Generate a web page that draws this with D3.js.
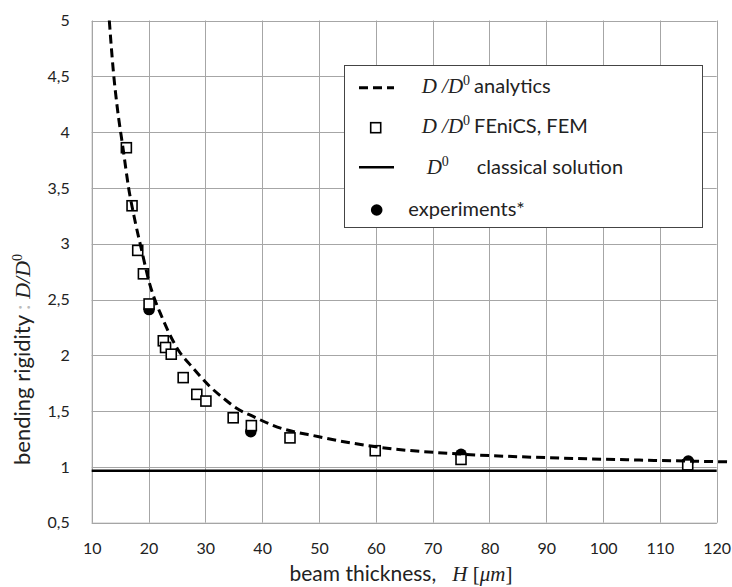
<!DOCTYPE html>
<html>
<head>
<meta charset="utf-8">
<script src="https://cdn.jsdelivr.net/npm/d3@7"></script>
<style>
  html, body { margin: 0; padding: 0; background: #fff; }
  svg { display: block; }
</style>
</head>
<body>
<svg id="chart" width="732" height="587"></svg>
<script>
// ---- data ----
const xTicks = [10, 20, 30, 40, 50, 60, 70, 80, 90, 100, 110, 120];
const yTicks = [0.5, 1, 1.5, 2, 2.5, 3, 3.5, 4, 4.5, 5];

// analytic curve D/D0
const analyticH = [13.1, 13.8, 14.5, 15.5, 16.5, 17.6, 18.8, 20.2, 21.1, 22.3, 23.8, 25.2, 27.6, 30.8, 33.2, 35.5, 38.5, 42, 50, 60, 75, 90, 105, 122];
const analyticD = [5.0, 4.55, 4.22, 3.86, 3.5, 3.21, 2.94, 2.64, 2.5, 2.35, 2.18, 2.05, 1.9, 1.72, 1.615, 1.525, 1.45, 1.37, 1.27, 1.18, 1.115, 1.083, 1.063, 1.045];

// FEniCS FEM points
const femH = [16.1, 17.1, 18.1, 19.1, 20.1, 22.6, 23.0, 24.0, 26.1, 28.5, 30.1, 34.9, 38.1, 44.9, 59.9, 75.0, 114.9];
const femD = [3.86, 3.34, 2.94, 2.73, 2.46, 2.13, 2.07, 2.01, 1.80, 1.65, 1.59, 1.44, 1.37, 1.26, 1.145, 1.067, 1.018];

// experiments
const expH = [20.1, 38.0, 75.0, 115.0];
const expD = [2.41, 1.315, 1.113, 1.053];

// classical solution D0
const classicalH = [10, 120];
const classicalD = [0.965, 0.965];

// ---- drawing ----
const svg = d3.select("#chart");
const sans = "Lato, 'Open Sans', sans-serif";
const serif = "'Liberation Serif', 'DejaVu Serif', serif";

const x = d3.scaleLinear().domain([10, 120]).range([91.7, 716.7]);
const y = d3.scaleLinear().domain([0.5, 5]).range([522.7, 20.5]);
const fmt = d => String(d).replace(".", ",");

// grid
const grid = svg.append("g");
grid.selectAll("line.v").data(xTicks).join("line")
  .attr("x1", d => Math.round(x(d)) + 0.5).attr("x2", d => Math.round(x(d)) + 0.5)
  .attr("y1", y(0.5)).attr("y2", y(5))
  .attr("stroke", "#a6a6a6").attr("stroke-width", 1);
grid.selectAll("line.h").data(yTicks).join("line")
  .attr("y1", d => Math.round(y(d)) + 0.5).attr("y2", d => Math.round(y(d)) + 0.5)
  .attr("x1", x(10)).attr("x2", x(120))
  .attr("stroke", "#a6a6a6").attr("stroke-width", 1);

// axes (labels)
const xAxis = svg.append("g").attr("transform", `translate(0,${y(0.5)})`)
  .call(d3.axisBottom(x).tickValues(xTicks).tickFormat(fmt).tickSize(0).tickPadding(20));
xAxis.select(".domain").attr("stroke", "#a6a6a6");
xAxis.selectAll("text").attr("font-family", sans).attr("font-size", 16).attr("fill", "#222");

const yAxis = svg.append("g").attr("transform", `translate(${x(10)},0)`)
  .call(d3.axisLeft(y).tickValues(yTicks).tickFormat(fmt).tickSize(0).tickPadding(22));
yAxis.select(".domain").attr("stroke", "#a6a6a6");
yAxis.selectAll("text").attr("font-family", sans).attr("font-size", 16).attr("fill", "#222");

// experiments (filled circles)
svg.append("g").selectAll("circle").data(expH).join("circle")
  .attr("cx", (d, i) => x(d)).attr("cy", (d, i) => y(expD[i]))
  .attr("r", 5.8).attr("fill", "#000");

// FEM squares
const sq = 10;
svg.append("g").selectAll("rect").data(femH).join("rect")
  .attr("x", (d, i) => x(d) - sq / 2).attr("y", (d, i) => y(femD[i]) - sq / 2)
  .attr("width", sq).attr("height", sq)
  .attr("fill", "#fff").attr("stroke", "#000").attr("stroke-width", 1.6);

// analytic dashed curve
const line = d3.line().x(d => x(d[0])).y(d => y(d[1])).curve(d3.curveMonotoneX);
svg.append("path").datum(analyticH.map((h, i) => [h, analyticD[i]]))
  .attr("d", line).attr("fill", "none").attr("stroke", "#000")
  .attr("stroke-width", 3).attr("stroke-dasharray", "9,5");

// classical solution
svg.append("path").datum(classicalH.map((h, i) => [h, classicalD[i]]))
  .attr("d", d3.line().x(d => x(d[0])).y(d => y(d[1])))
  .attr("stroke", "#000").attr("stroke-width", 2.5).attr("fill", "none");

// axis titles
const xt = svg.append("text").attr("x", 401).attr("y", 581).attr("text-anchor", "middle")
  .attr("font-family", sans).attr("font-size", 21).attr("fill", "#222");
xt.append("tspan").text("beam thickness,\u00a0\u00a0 ");
xt.append("tspan").attr("font-family", serif).attr("font-style", "italic").text("H");
xt.append("tspan").attr("font-family", serif).text(" [");
xt.append("tspan").attr("font-family", serif).attr("font-style", "italic").text("μm");
xt.append("tspan").attr("font-family", serif).text("]");

const yt = svg.append("text").attr("transform", "translate(30,465) rotate(-90)")
  .attr("text-anchor", "start").attr("font-family", sans).attr("font-size", 22).attr("fill", "#222");
yt.append("tspan").text("bending rigidity ");
yt.append("tspan").attr("fill", "#bbb").text(": ");
yt.append("tspan").attr("font-family", serif).attr("font-style", "italic").text("D/D");
yt.append("tspan").attr("font-family", serif).attr("font-size", 14).attr("dy", -8).text("0");

// legend
const lg = svg.append("g");
lg.append("rect").attr("x", 344.5).attr("y", 65.5).attr("width", 358).attr("height", 162)
  .attr("fill", "#fff").attr("stroke", "#444").attr("stroke-width", 1);

function mathD(t, xpos, ypos, withSlash) {
  const tx = lg.append("text").attr("x", xpos).attr("y", ypos)
    .attr("font-family", serif).attr("font-size", 21).attr("fill", "#222");
  tx.append("tspan").attr("font-style", "italic").text(withSlash ? "D /D" : "D");
  tx.append("tspan").attr("font-size", 14).attr("dy", -8).text("0");
  tx.append("tspan").attr("dy", 8).attr("dx", 4).attr("font-family", sans).attr("font-size", 20).text(t);
  return tx;
}

// analytics
lg.append("line").attr("x1", 359).attr("x2", 394).attr("y1", 87.7).attr("y2", 87.7)
  .attr("stroke", "#000").attr("stroke-width", 3).attr("stroke-dasharray", "9,5");
mathD("analytics", 421.7, 93, true);
// FEM
lg.append("rect").attr("x", 375.7 - 5).attr("y", 127.7 - 5).attr("width", 10).attr("height", 10)
  .attr("fill", "#fff").attr("stroke", "#000").attr("stroke-width", 1.6);
mathD("FEniCS, FEM", 421.7, 133, true);
// classical
lg.append("line").attr("x1", 359).attr("x2", 394).attr("y1", 167.3).attr("y2", 167.3)
  .attr("stroke", "#000").attr("stroke-width", 2.5);
mathD("", 426.7, 173.5, false);
lg.append("text").attr("x", 476.7).attr("y", 173.5).attr("font-family", sans).attr("font-size", 20)
  .attr("fill", "#222").text("classical solution");
// experiments
lg.append("circle").attr("cx", 376.7).attr("cy", 210).attr("r", 5.8).attr("fill", "#000");
lg.append("text").attr("x", 408.3).attr("y", 215.5).attr("font-family", sans).attr("font-size", 20)
  .attr("fill", "#222").text("experiments*");
</script>
</body>
</html>
